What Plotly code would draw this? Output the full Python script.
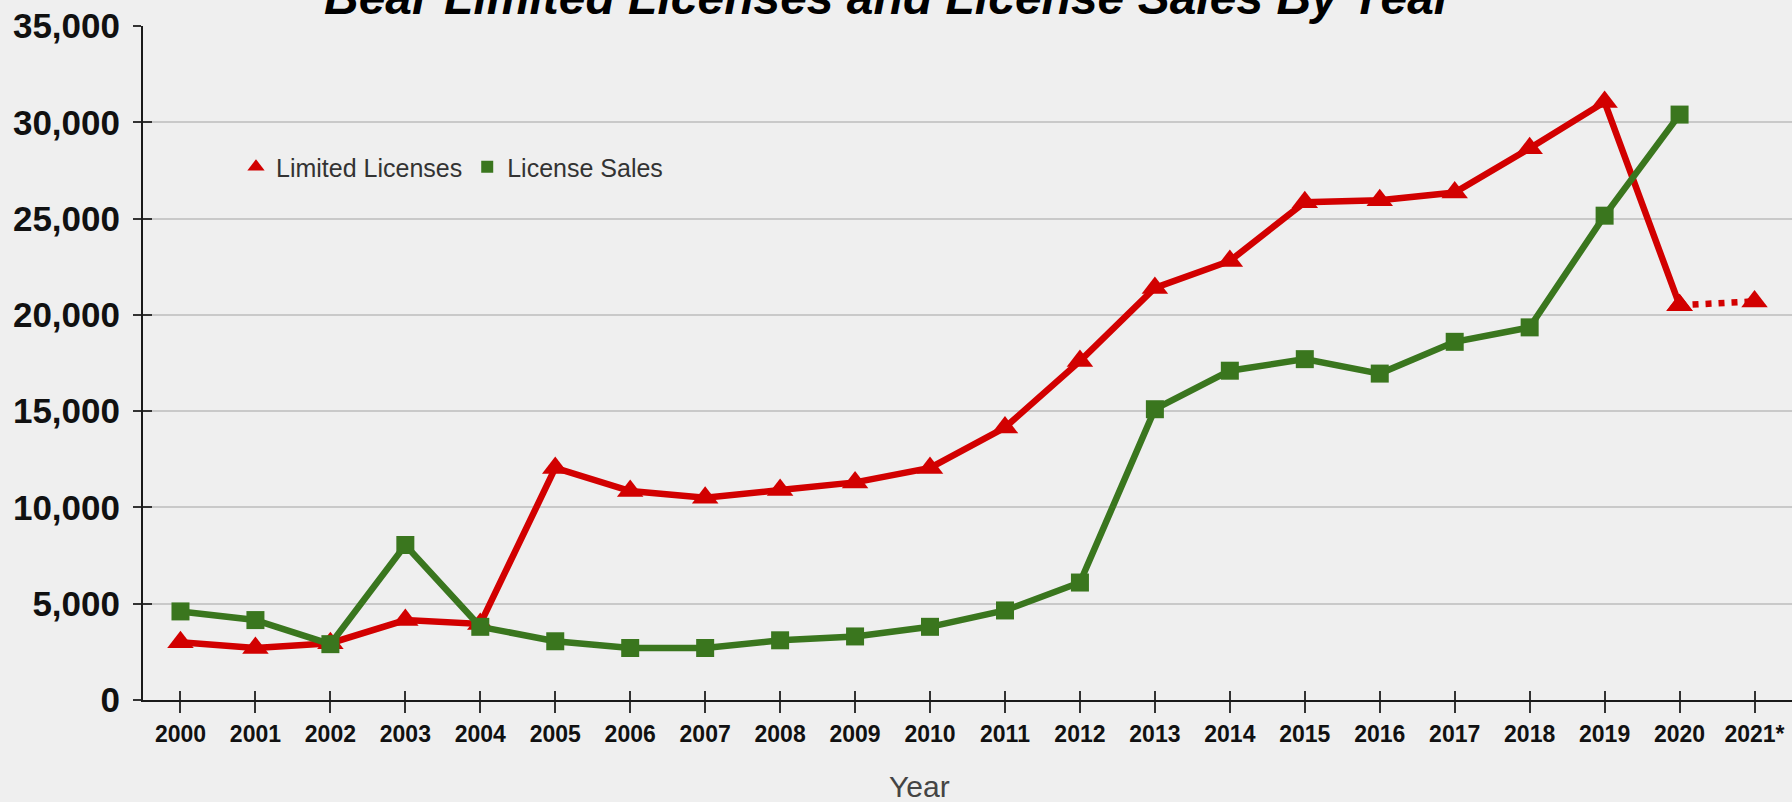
import plotly.graph_objects as go

years = ["2000", "2001", "2002", "2003", "2004", "2005", "2006", "2007", "2008", "2009",
         "2010", "2011", "2012", "2013", "2014", "2015", "2016", "2017", "2018", "2019",
         "2020", "2021*"]
limited_licenses = [3000, 2700, 2950, 4150, 3950, 12050, 10850, 10500, 10900, 11300,
                    12050, 14150, 17600, 21400, 22800, 25850, 25950, 26350, 28650, 31050,
                    20500, 20700]
license_sales = [4600, 4150, 2900, 8050, 3800, 3050, 2700, 2700, 3100, 3300,
                 3800, 4650, 6100, 15100, 17100, 17700, 16950, 18600, 19350, 25150,
                 30400, None]
y_ticks = [0, 5000, 10000, 15000, 20000, 25000, 30000, 35000]
y_tick_text = ["0", "5,000", "10,000", "15,000", "20,000", "25,000", "30,000", "35,000"]

RED = "#d20000"
GREEN = "#3a761e"
FONT = "Liberation Sans, Arial, sans-serif"
W, H = 1792, 802
ML, MR, MT, MB = 143, 0, 26, 102
pw, ph = W - ML - MR, H - MT - MB


def px_x(x):
    return (x - ML) / pw


def px_y(y):
    return (H - MB - y) / ph


fig = go.Figure()

fig.add_trace(go.Scatter(
    x=years[:21], y=limited_licenses[:21], name="Limited Licenses", mode="lines+markers",
    line=dict(color=RED, width=6.5), marker=dict(symbol="triangle-up", size=23, color=RED),
    showlegend=False,
))
fig.add_trace(go.Scatter(
    x=years[20:], y=limited_licenses[20:], name="Limited Licenses (est.)", mode="lines+markers",
    line=dict(color=RED, width=6.5, dash="6px,7px"),
    marker=dict(symbol="triangle-up", size=23, color=RED), showlegend=False,
))
fig.add_trace(go.Scatter(
    x=years[:21], y=license_sales[:21], name="License Sales", mode="lines+markers",
    line=dict(color=GREEN, width=6.5), marker=dict(symbol="square", size=18, color=GREEN),
    showlegend=False,
))
# legend entries (marker only, as in the reference)
fig.add_trace(go.Scatter(
    x=[None], y=[None], name="Limited Licenses", mode="markers",
    marker=dict(symbol="triangle-up", size=15, color=RED),
))
fig.add_trace(go.Scatter(
    x=[None], y=[None], name="License Sales", mode="markers",
    marker=dict(symbol="square", size=12, color=GREEN),
))
# helper trace so the overlay axes (inner tick halves) get categories
fig.add_trace(go.Scatter(
    x=years, y=[None] * len(years), xaxis="x2", yaxis="y2", mode="lines",
    showlegend=False, hoverinfo="skip",
))

fig.update_layout(
    width=W, height=H,
    margin=dict(l=ML, r=MR, t=MT, b=MB, pad=0),
    paper_bgcolor="#efefef", plot_bgcolor="#efefef",
    showlegend=True,
    legend=dict(
        orientation="h", x=px_x(236), y=px_y(167), xanchor="left", yanchor="middle",
        bgcolor="rgba(0,0,0,0)", font=dict(family=FONT, size=25, color="#333333"),
        itemwidth=30, tracegroupgap=0,
    ),
    xaxis=dict(
        type="category", range=[-0.5, 21.5], showgrid=False, zeroline=False,
        showline=True, linecolor="#1a1a1a", linewidth=2,
        ticks="outside", ticklen=11, tickwidth=1.5, tickcolor="#333333",
        tickfont=dict(family=FONT, size=23, color="#111111", weight="bold"),
        ticklabelstandoff=1,
    ),
    yaxis=dict(
        range=[0, 35000], tickvals=y_ticks, ticktext=y_tick_text,
        showgrid=True, gridcolor="#c9c9c9", gridwidth=2, zeroline=False,
        showline=True, linecolor="#1a1a1a", linewidth=2,
        ticks="outside", ticklen=8, tickwidth=1.5, tickcolor="#333333",
        tickfont=dict(family=FONT, size=35, color="#111111", weight="bold"),
        ticklabelstandoff=6,
    ),
    xaxis2=dict(
        type="category", overlaying="x", matches="x", range=[-0.5, 21.5],
        showgrid=False, zeroline=False, showline=False, showticklabels=False,
        ticks="inside", ticklen=9, tickwidth=1.5, tickcolor="#333333", side="bottom",
    ),
    yaxis2=dict(
        overlaying="y", range=[0, 35000], tickvals=y_ticks, showgrid=False,
        zeroline=False, showline=False, showticklabels=False,
        ticks="inside", ticklen=9, tickwidth=1.5, tickcolor="#333333", side="left",
    ),
    annotations=[
        dict(text="<b><i>Bear Limited Licenses and License Sales By Year</i></b>",
             xref="paper", yref="paper", x=px_x(889), y=px_y(-2),
             xanchor="center", yanchor="middle", showarrow=False,
             font=dict(family=FONT, size=48, color="#000000")),
        dict(text="Year", xref="paper", yref="paper", x=px_x(919), y=px_y(786),
             xanchor="center", yanchor="middle", showarrow=False,
             font=dict(family=FONT, size=30, color="#444444")),
    ],
)

fig.write_html("out.html")
